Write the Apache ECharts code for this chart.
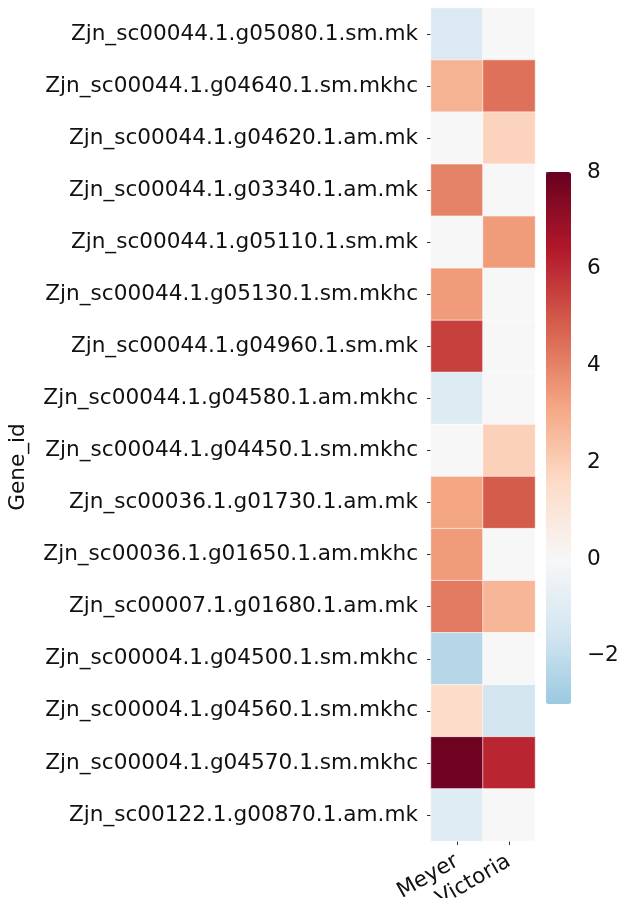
<!DOCTYPE html>
<html>
<head>
<meta charset="utf-8">
<script src="https://cdn.jsdelivr.net/npm/echarts@6/dist/echarts.min.js"></script>
<style>
html,body{margin:0;padding:0;background:#fff;}
#chart{width:619px;height:898px;}
</style>
</head>
<body>
<div id="chart"></div>
<script>
const genes = [
  'Zjn_sc00044.1.g05080.1.sm.mk',
  'Zjn_sc00044.1.g04640.1.sm.mkhc',
  'Zjn_sc00044.1.g04620.1.am.mk',
  'Zjn_sc00044.1.g03340.1.am.mk',
  'Zjn_sc00044.1.g05110.1.sm.mk',
  'Zjn_sc00044.1.g05130.1.sm.mkhc',
  'Zjn_sc00044.1.g04960.1.sm.mk',
  'Zjn_sc00044.1.g04580.1.am.mkhc',
  'Zjn_sc00044.1.g04450.1.sm.mkhc',
  'Zjn_sc00036.1.g01730.1.am.mk',
  'Zjn_sc00036.1.g01650.1.am.mkhc',
  'Zjn_sc00007.1.g01680.1.am.mk',
  'Zjn_sc00004.1.g04500.1.sm.mkhc',
  'Zjn_sc00004.1.g04560.1.sm.mkhc',
  'Zjn_sc00004.1.g04570.1.sm.mkhc',
  'Zjn_sc00122.1.g00870.1.am.mk'
];
const samples = ['Meyer', 'Victoria'];
const meyer    = [-1.2, 2.8, 0, 4.0, 0, 3.4, 5.5, -1.1, 0, 3.2, 3.4, 4.2, -2.3, 1.5, 7.8, -1.0];
const victoria = [0, 4.4, 1.8, 0, 3.4, 0, 0, 0, 1.9, 4.9, 0, 2.7, 0, -1.5, 6.1, 0];
const colorbarTicks = [-2, 0, 2, 4, 6, 8];
const vmin = -3, vmax = 8, center = 0;

// RdBu_r colormap anchors
const rdbuR = ['#053061','#2166ac','#4393c3','#92c5de','#d1e5f0','#f7f7f7','#fddbc7','#f4a582','#d6604d','#b2182b','#67001f'];
function hex2rgb(h){return [parseInt(h.slice(1,3),16),parseInt(h.slice(3,5),16),parseInt(h.slice(5,7),16)];}
function cmap(t){
  t = Math.max(0, Math.min(1, t));
  const p = t * (rdbuR.length - 1);
  const i = Math.min(Math.floor(p), rdbuR.length - 2);
  const f = p - i;
  const a = hex2rgb(rdbuR[i]), b = hex2rgb(rdbuR[i+1]);
  const c = a.map((v,k)=>Math.round(v + (b[k]-v)*f));
  return 'rgb(' + c.join(',') + ')';
}
const vrange = Math.max(vmax - center, center - vmin);
const colors = [];
const N = 111;
for (let k = 0; k < N; k++) {
  const v = vmin + (vmax - vmin) * k / (N - 1);
  colors.push(cmap((v - (center - vrange)) / (2 * vrange)));
}

const data = [];
genes.forEach((g, i) => {
  data.push([0, i, meyer[i]]);
  data.push([1, i, victoria[i]]);
});

const font = 'DejaVu Sans';
const fs = 21.6;
const chart = echarts.init(document.getElementById('chart'));
chart.setOption({
  animation: false,
  backgroundColor: '#fff',
  grid: [
    {left: 431, top: 8, width: 104, height: 833, containLabel: false, outerBoundsMode: 'none'},
    {left: 546, top: 172, width: 25, height: 532, show: false, containLabel: false, outerBoundsMode: 'none'}
  ],
  xAxis: [
    {
      type: 'category', data: samples, gridIndex: 0, position: 'bottom',
      axisLine: {show: false},
      axisTick: {show: true, alignWithLabel: true, length: 4, lineStyle: {color: '#333', width: 1}},
      axisLabel: {rotate: 30, interval: 0, hideOverlap: false, margin: 19, fontFamily: font, fontSize: fs, color: '#111'},
      splitLine: {show: false}
    },
    {type: 'value', gridIndex: 1, show: false}
  ],
  yAxis: [
    {
      type: 'category', data: genes, inverse: true, gridIndex: 0,
      axisLine: {show: false},
      axisTick: {show: true, alignWithLabel: true, length: 4, lineStyle: {color: '#333', width: 1}},
      axisLabel: {margin: 13, interval: 0, fontFamily: font, fontSize: fs, color: '#111'},
      splitLine: {show: false}
    },
    {
      type: 'value', gridIndex: 1, min: vmin, max: vmax, position: 'right',
      axisLine: {show: false},
      splitLine: {show: false},
      axisTick: {show: true, length: 5, customValues: colorbarTicks, lineStyle: {color: '#333', width: 1}},
      axisLabel: {
        margin: 16, fontFamily: font, fontSize: fs, color: '#111',
        customValues: colorbarTicks,
        formatter: v => (v < 0 ? '\u2212' + Math.abs(v) : String(v))
      }
    }
  ],
  visualMap: {
    type: 'continuous', min: vmin, max: vmax, calculable: false,
    seriesIndex: 0, dimension: 2,
    orient: 'vertical', left: 546, top: 172, itemWidth: 25, itemHeight: 532,
    padding: 0, text: null, showLabel: false,
    inRange: {color: colors}
  },
  graphic: [{
    type: 'text', x: 18, y: 467, rotation: Math.PI / 2,
    style: {text: 'Gene_id', fontFamily: font, fontSize: fs, fill: '#111', align: 'center', verticalAlign: 'middle'}
  }],
  series: [{
    type: 'heatmap', xAxisIndex: 0, yAxisIndex: 0, data: data,
    itemStyle: {borderColor: '#ffffff', borderWidth: 0.6},
    emphasis: {disabled: true}
  }]
});
</script>
</body>
</html>
